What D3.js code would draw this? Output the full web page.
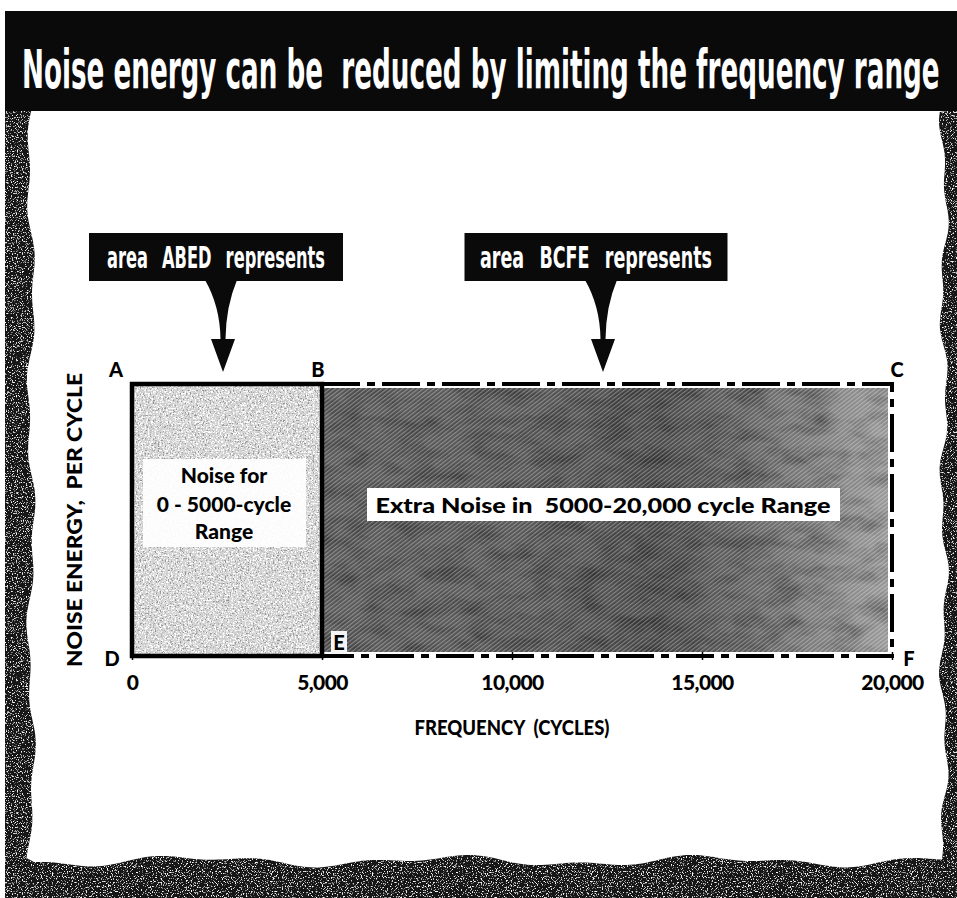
<!DOCTYPE html>
<html>
<head>
<meta charset="utf-8">
<script src="https://cdn.jsdelivr.net/npm/d3@7/dist/d3.min.js"></script>
<style>
  html, body { margin: 0; padding: 0; background: #fff; }
  svg { display: block; }
</style>
</head>
<body>
<svg id="chart" width="957" height="898"></svg>
<script>
// ---- data ----
const titleText = "Noise energy can be  reduced by limiting the frequency range";
const freqTicks = [0, 5000, 10000, 15000, 20000];
const freqDomain = [0, 20000];
const levelDomain = [0, 1];
// frequency bands: start, end, noise energy per cycle (flat spectrum)
const bandStart = [0, 5000];
const bandEnd = [5000, 20000];
const bandLevel = [1, 1];
const bandArea = ["ABED", "BCFE"];
const calloutText = ["area ABED represents", "area BCFE represents"];
const bandLabelLines = [["Noise for", "0 - 5000-cycle", "Range"], ["Extra Noise in  5000-20,000 cycle Range"]];
// corner letters and the (frequency, level) point each one marks
const cornerName = ["A", "B", "C", "D", "E", "F"];
const cornerFreq = [0, 5000, 20000, 0, 5000, 20000];
const cornerLevel = [1, 1, 1, 0, 0, 0];
const xTitle = "FREQUENCY  (CYCLES)";
const yTitle = "NOISE ENERGY,  PER CYCLE";

// ---- layout ----
const W = 957, H = 898;
const plot = { left: 132, right: 892, top: 384, bottom: 656 };
const condensed = "'Liberation Sans Narrow', 'DejaVu Sans Condensed', 'Arial Narrow', sans-serif";
const geo = "Lato, 'Open Sans', 'DejaVu Sans', sans-serif";

const svg = d3.select("#chart");
const defs = svg.append("defs");

const x = d3.scaleLinear().domain(freqDomain).range([plot.left, plot.right]);
const y = d3.scaleLinear().domain(levelDomain).range([plot.bottom, plot.top]);

// ---- textures ----
// speckled grain for the torn-paper frame
const fGrain = defs.append("filter").attr("id", "frameGrain")
  .attr("x", 0).attr("y", 0).attr("width", 1).attr("height", 1);
fGrain.append("feTurbulence").attr("type", "fractalNoise").attr("baseFrequency", 0.8)
  .attr("numOctaves", 2).attr("seed", 7).attr("result", "noise");
fGrain.append("feColorMatrix").attr("in", "noise").attr("type", "matrix")
  .attr("values", "0 0 0 0 1  0 0 0 0 1  0 0 0 0 1  6 0 0 0 -3.45").attr("result", "spk");
fGrain.append("feComposite").attr("in", "spk").attr("in2", "SourceAlpha").attr("operator", "in").attr("result", "spkIn");
const m1 = fGrain.append("feMerge");
m1.append("feMergeNode").attr("in", "SourceGraphic");
m1.append("feMergeNode").attr("in", "spkIn");

// mottled light stipple for the low band
const fStip = defs.append("filter").attr("id", "stipple")
  .attr("x", 0).attr("y", 0).attr("width", 1).attr("height", 1);
fStip.append("feTurbulence").attr("type", "fractalNoise").attr("baseFrequency", 0.6)
  .attr("numOctaves", 3).attr("seed", 3).attr("result", "noise");
fStip.append("feColorMatrix").attr("in", "noise").attr("type", "matrix")
  .attr("values", "0 0 0 0 0.3  0 0 0 0 0.3  0 0 0 0 0.3  6 0 0 0 -3.4").attr("result", "dark");
fStip.append("feColorMatrix").attr("in", "noise").attr("type", "matrix")
  .attr("values", "0 0 0 0 1  0 0 0 0 1  0 0 0 0 1  0 6 0 0 -2.9").attr("result", "light");
fStip.append("feComposite").attr("in", "dark").attr("in2", "SourceAlpha").attr("operator", "in").attr("result", "darkIn");
fStip.append("feComposite").attr("in", "light").attr("in2", "SourceAlpha").attr("operator", "in").attr("result", "lightIn");
const m2 = fStip.append("feMerge");
m2.append("feMergeNode").attr("in", "SourceGraphic");
m2.append("feMergeNode").attr("in", "lightIn");
m2.append("feMergeNode").attr("in", "darkIn");

// soft mottling for the high band
const fDark = defs.append("filter").attr("id", "darkGrain")
  .attr("x", 0).attr("y", 0).attr("width", 1).attr("height", 1);
fDark.append("feTurbulence").attr("type", "fractalNoise").attr("baseFrequency", "0.03 0.06")
  .attr("numOctaves", 3).attr("seed", 11).attr("result", "noise");
fDark.append("feColorMatrix").attr("in", "noise").attr("type", "matrix")
  .attr("values", "0 0 0 0 0  0 0 0 0 0  0 0 0 0 0  1.2 0 0 0 -0.45").attr("result", "blot");
fDark.append("feComposite").attr("in", "blot").attr("in2", "SourceAlpha").attr("operator", "in").attr("result", "blotIn");
const m3 = fDark.append("feMerge");
m3.append("feMergeNode").attr("in", "SourceGraphic");
m3.append("feMergeNode").attr("in", "blotIn");

// shading of the high band, lighter toward the top of the range
const grad = defs.append("linearGradient").attr("id", "highShade")
  .attr("x1", 0).attr("x2", 1).attr("y1", 0).attr("y2", 0);
[[0, "#5a5a5a"], [0.35, "#575757"], [0.6, "#4a4a4a"], [0.75, "#626262"], [0.9, "#838383"], [1, "#999999"]]
  .forEach(([o, c]) => grad.append("stop").attr("offset", o).attr("stop-color", c));

// fine diagonal hatching
const hatch = defs.append("pattern").attr("id", "hatch")
  .attr("patternUnits", "userSpaceOnUse").attr("width", 3.2).attr("height", 3.2)
  .attr("patternTransform", "rotate(-38)");
hatch.append("rect").attr("width", 3.2).attr("height", 1.1).attr("fill", "#fff").attr("opacity", 0.33);

// ---- torn paper frame ----
function frameEdge() {
  const pts = [];
  const leftX = yy => 31 + 3 * Math.sin(yy / 37) + 2 * Math.sin(yy / 13 + 1);
  const botY = xx => 861 + 4 * Math.sin(xx / 41) + 2.5 * Math.sin(xx / 17 + 2);
  const rightX = yy => 944 + 3 * Math.sin(yy / 29 + 0.5) + 2 * Math.sin(yy / 11);
  pts.push([5, 110]);
  for (let yy = 110; yy <= 860; yy += 4) pts.push([leftX(yy), yy]);
  for (let xx = 34; xx <= 942; xx += 4) pts.push([xx, botY(xx)]);
  for (let yy = 860; yy >= 110; yy -= 4) pts.push([rightX(yy), yy]);
  pts.push([957, 110], [957, 898], [5, 898]);
  return "M" + pts.map(p => p[0].toFixed(1) + "," + p[1].toFixed(1)).join("L") + "Z";
}
svg.append("path").attr("d", frameEdge()).attr("fill", "#161616").attr("filter", "url(#frameGrain)");

// ---- title bar ----
svg.append("rect").attr("x", 5).attr("y", 11).attr("width", W - 5).attr("height", 100).attr("fill", "#0a0a0a");
// condensed headline: measured, then squeezed horizontally to span the bar
const title = svg.append("text").attr("x", 0).attr("y", 0)
  .attr("font-family", condensed).attr("font-weight", "bold").attr("font-size", 54)
  .attr("fill", "#fff")
  .attr("xml:space", "preserve").style("white-space", "pre")
  .text(titleText);
const natural = title.node().getComputedTextLength();
const sx = 918 / natural;
title.attr("transform", `translate(22,88) scale(${sx},1)`);

// ---- bands ----
const bands = bandStart.map((s, i) => ({ s, e: bandEnd[i], v: bandLevel[i], area: bandArea[i] }));

// low band: light stipple with solid outline
const low = bands[0];
svg.append("rect")
  .attr("x", x(low.s)).attr("y", y(low.v))
  .attr("width", x(low.e) - x(low.s)).attr("height", y(0) - y(low.v))
  .attr("fill", "#d2d2d2").attr("filter", "url(#stipple)");

// high band: dark hatched fill with dash-dot outline
const high = bands[1];
const hx = x(high.s) + 2, hy = y(high.v) + 4, hw = x(high.e) - x(high.s) - 6, hh = y(0) - y(high.v) - 8;
svg.append("rect").attr("x", hx).attr("y", hy).attr("width", hw).attr("height", hh)
  .attr("fill", "url(#highShade)").attr("filter", "url(#darkGrain)");
svg.append("rect").attr("x", hx).attr("y", hy).attr("width", hw).attr("height", hh)
  .attr("fill", "url(#hatch)");

svg.append("path")
  .attr("d", `M${x(high.s)},${y(high.v)}H${x(high.e)}V${y(0)}H${x(high.s)}`)
  .attr("fill", "none").attr("stroke", "#000").attr("stroke-width", 4)
  .attr("stroke-dasharray", "38 7 8 7");

svg.append("rect")
  .attr("x", x(low.s)).attr("y", y(low.v))
  .attr("width", x(low.e) - x(low.s)).attr("height", y(0) - y(low.v))
  .attr("fill", "none").attr("stroke", "#000").attr("stroke-width", 4.5);

// ---- x axis ----
const axis = d3.axisBottom(x).tickValues(freqTicks).tickFormat(d3.format(","))
  .tickSizeInner(8).tickSizeOuter(0).tickPadding(15);
const gx = svg.append("g").attr("transform", `translate(0,${y(0) - 4})`).call(axis);
gx.select(".domain").remove();
gx.selectAll(".tick line").attr("stroke", "#000").attr("stroke-width", 1.5);
gx.selectAll(".tick text")
  .attr("font-family", geo).attr("font-weight", 900).attr("font-size", 21)
  .attr("letter-spacing", -0.6).attr("fill", "#000");

svg.append("text").attr("x", x(10000)).attr("y", 727)
  .attr("text-anchor", "middle").attr("dominant-baseline", "central")
  .attr("font-family", geo).attr("font-weight", 900).attr("font-size", 20)
  .attr("textLength", 195).attr("lengthAdjust", "spacingAndGlyphs")
  .attr("xml:space", "preserve").style("white-space", "pre")
  .text(xTitle);

// ---- y title ----
svg.append("text")
  .attr("transform", `translate(74,${(y(0) + y(1)) / 2}) rotate(-90)`)
  .attr("text-anchor", "middle").attr("dominant-baseline", "central")
  .attr("font-family", geo).attr("font-weight", 900).attr("font-size", 20)
  .attr("textLength", 294).attr("lengthAdjust", "spacingAndGlyphs")
  .attr("xml:space", "preserve").style("white-space", "pre")
  .text(yTitle);

// ---- corner letters ----
const cornerOffset = {
  A: [-16, -15], B: [-4, -15], C: [5, -15],
  D: [-20, 2], E: [17, -14], F: [17, 2]
};
cornerName.forEach((n, i) => {
  const cx = x(cornerFreq[i]) + cornerOffset[n][0];
  const cy = y(cornerLevel[i]) + cornerOffset[n][1];
  if (n === "E") {
    svg.append("rect").attr("x", cx - 8).attr("y", cy - 11).attr("width", 16).attr("height", 23).attr("fill", "#f4f4f4");
  }
  svg.append("text").attr("x", cx).attr("y", cy)
    .attr("text-anchor", "middle").attr("dominant-baseline", "central")
    .attr("font-family", geo).attr("font-weight", 900).attr("font-size", 20)
    .attr("fill", "#000").text(n);
});

// ---- band labels ----
// low band: three centred lines on a soft white patch
const lowMid = x((low.s + low.e) / 2) - 3;
svg.append("rect").attr("x", lowMid - 81).attr("y", 459).attr("width", 163).attr("height", 88)
  .attr("fill", "#fff").attr("opacity", 0.93);
const lineY = [474, 503, 530];
bandLabelLines[0].forEach((t, i) => {
  svg.append("text").attr("x", lowMid).attr("y", lineY[i])
    .attr("text-anchor", "middle").attr("dominant-baseline", "central")
    .attr("font-family", geo).attr("font-weight", 900).attr("font-size", 21)
    .attr("xml:space", "preserve").style("white-space", "pre")
    .attr("fill", "#000").text(t);
});

// high band: single line on a white strip
const highMid = x((high.s + high.e) / 2) - 4;
svg.append("rect").attr("x", highMid - 236).attr("y", 488).attr("width", 473).attr("height", 33)
  .attr("fill", "#fff");
svg.append("text").attr("x", highMid).attr("y", 505)
  .attr("text-anchor", "middle").attr("dominant-baseline", "central")
  .attr("font-family", geo).attr("font-weight", 900).attr("font-size", 20)
  .attr("textLength", 455).attr("lengthAdjust", "spacingAndGlyphs")
  .attr("xml:space", "preserve").style("white-space", "pre")
  .attr("fill", "#000").text(bandLabelLines[1][0]);

// ---- callouts ----
const boxW = [254, 263];
const textW = [218, 232];
bands.forEach((b, i) => {
  const ax = x((b.s + b.e) / 2) - 4;       // arrow tip sits over the band centre
  const bx = ax - 7;                        // box centre
  const top = 233, bot = 281, tip = 372;
  svg.append("rect").attr("x", bx - boxW[i] / 2).attr("y", top).attr("width", boxW[i]).attr("height", bot - top)
    .attr("fill", "#0a0a0a");
  svg.append("text").attr("x", bx).attr("y", 257)
    .attr("text-anchor", "middle").attr("dominant-baseline", "central")
    .attr("font-family", condensed).attr("font-weight", "bold").attr("font-size", 30)
    .attr("word-spacing", 14)
    .attr("textLength", textW[i]).attr("lengthAdjust", "spacingAndGlyphs")
    .attr("fill", "#fff").text(calloutText[i]);
  // tapered funnel + arrowhead
  const p = d3.path();
  p.moveTo(ax - 18, bot - 1);
  p.quadraticCurveTo(ax - 3, bot + 25, ax - 2.5, bot + 58);
  p.lineTo(ax - 12, bot + 58);
  p.lineTo(ax, tip);
  p.lineTo(ax + 12, bot + 58);
  p.lineTo(ax + 2.5, bot + 58);
  p.quadraticCurveTo(ax + 3, bot + 25, ax + 14, bot - 1);
  p.closePath();
  svg.append("path").attr("d", p.toString()).attr("fill", "#0a0a0a");
});
</script>
</body>
</html>
